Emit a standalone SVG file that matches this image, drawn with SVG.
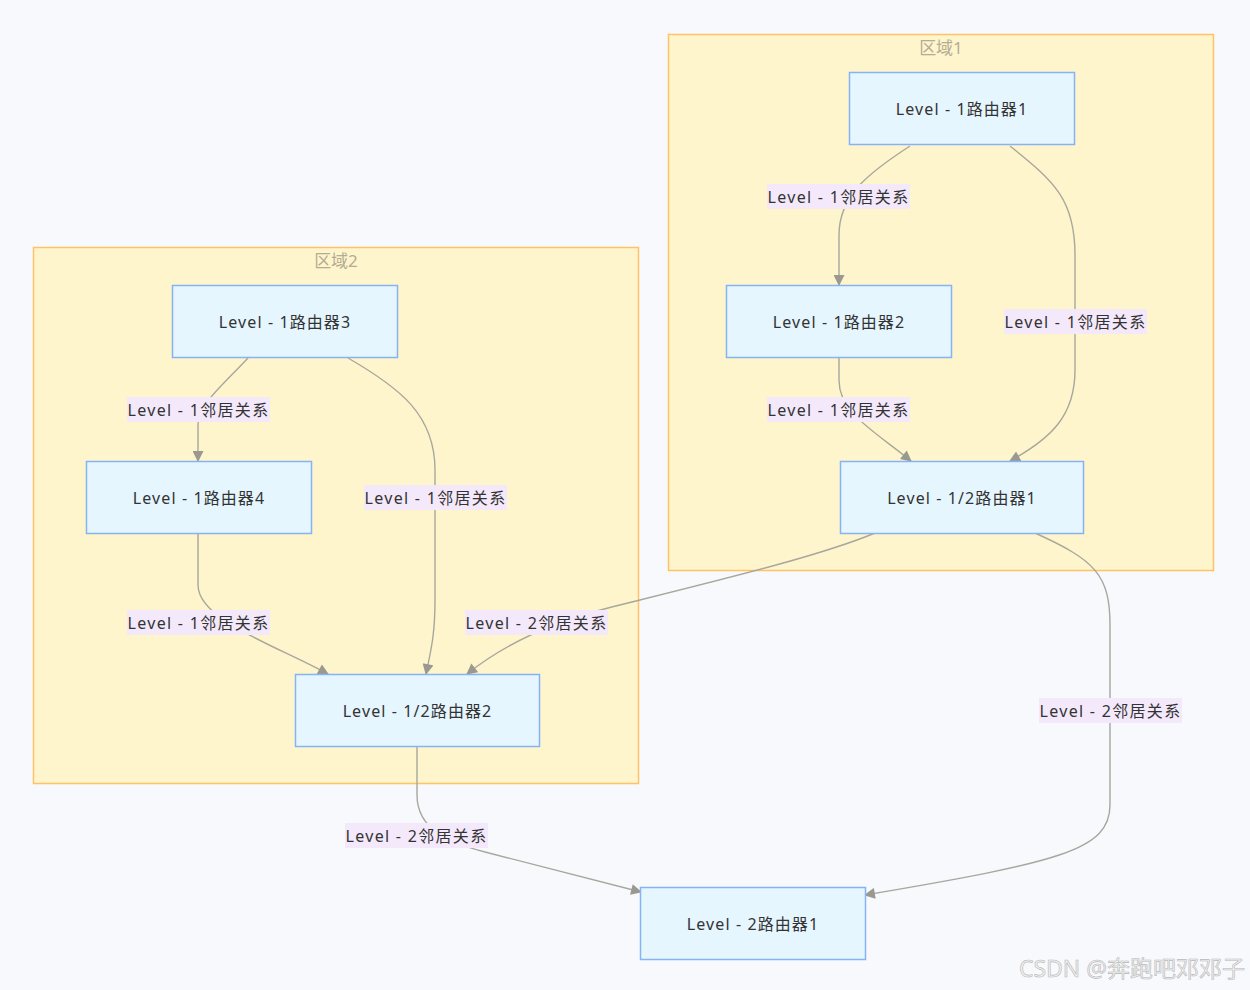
<svg xmlns="http://www.w3.org/2000/svg" width="1250" height="990" viewBox="0 0 1250 990">
<defs>
<style>
.cluster{fill:#fff5cc;stroke:#ffc266;stroke-width:1.5}
.ctitle{font-family:"Noto Sans","Noto Sans CJK SC",sans-serif;font-size:17px;fill:#b3ad93;text-anchor:middle}
.node rect{fill:#e6f6ff;stroke:#85b3f5;stroke-width:1.5}
.node text{font-family:"Noto Sans","Noto Sans CJK SC",sans-serif;font-size:16px;letter-spacing:1.1px;fill:#333;text-anchor:middle;dominant-baseline:central}
.edge{fill:none;stroke:#a8a79e;stroke-width:1.4;marker-end:url(#arr)}
.lbl rect{fill:#f3e9fb}
.lbl text{font-family:"Noto Sans","Noto Sans CJK SC",sans-serif;font-size:16px;letter-spacing:1.3px;fill:#333;text-anchor:middle;dominant-baseline:central}
</style>
<marker id="arr" viewBox="0 0 10 10" refX="9" refY="5" markerWidth="12" markerHeight="11" markerUnits="userSpaceOnUse" orient="auto">
<path d="M0,0 L10,5 L0,10 z" fill="#9a9990"/>
</marker>
</defs>
<rect width="1250" height="990" fill="#f8f9fc"/>
<g id="cluster1">
<rect class="cluster" x="668.5" y="34.5" width="545" height="536"/>
<text class="ctitle" x="941" y="54">区域1</text>
</g>
<g id="cluster2">
<rect class="cluster" x="33.5" y="247.5" width="605" height="536"/>
<text class="ctitle" x="336" y="267">区域2</text>
</g>
<g id="connectors">
<path class="edge" d="M910,146 C870,172 839,195 839,235 L839,285"/>
<path class="edge" d="M1010,146 C1055,182 1075,200 1075,255 L1075,370 C1075,415 1052,438 1010,461"/>
<path class="edge" d="M839,358 L839,380 C839,412 870,428 911,461"/>
<path class="edge" d="M248,358 C220,388 198,405 198,425 L198,461"/>
<path class="edge" d="M348,358 C400,388 435,415 435,470 L435,600 C435,635 431,650 426,674"/>
<path class="edge" d="M198,533 L198,585 C198,620 275,645 328,674"/>
<path class="edge" d="M875,533 C820,556 720,580 608,608 C560,620 510,640 467,674"/>
<path class="edge" d="M1035,533 C1095,560 1110,575 1110,625 L1110,805 C1110,850 1060,862 865,895"/>
<path class="edge" d="M417,746 L417,795 C417,830 450,843 485,852 L641,892"/>
</g>
<g id="labels">
<g class="lbl"><rect x="767" y="184" width="143" height="25"/><text x="838.5" y="196.5">Level - 1邻居关系</text></g>
<g class="lbl"><rect x="1004" y="309" width="143" height="25"/><text x="1075.5" y="321.5">Level - 1邻居关系</text></g>
<g class="lbl"><rect x="767" y="397" width="143" height="25"/><text x="838.5" y="409.5">Level - 1邻居关系</text></g>
<g class="lbl"><rect x="127" y="397" width="143" height="25"/><text x="198.5" y="409.5">Level - 1邻居关系</text></g>
<g class="lbl"><rect x="364" y="485" width="143" height="25"/><text x="435.5" y="497.5">Level - 1邻居关系</text></g>
<g class="lbl"><rect x="127" y="610" width="143" height="25"/><text x="198.5" y="622.5">Level - 1邻居关系</text></g>
<g class="lbl"><rect x="465" y="610" width="143" height="25"/><text x="536.5" y="622.5">Level - 2邻居关系</text></g>
<g class="lbl"><rect x="1039" y="698" width="143" height="25"/><text x="1110.5" y="710.5">Level - 2邻居关系</text></g>
<g class="lbl"><rect x="345" y="823" width="143" height="25"/><text x="416.5" y="835.5">Level - 2邻居关系</text></g>
</g>
<g id="r1" class="node"><rect x="849.5" y="72.5" width="225" height="72"/><text x="962" y="108.5">Level - 1路由器1</text></g>
<g id="r2" class="node"><rect x="726.5" y="285.5" width="225" height="72"/><text x="839" y="321.5">Level - 1路由器2</text></g>
<g id="r12_1" class="node"><rect x="840.5" y="461.5" width="243" height="72"/><text x="962" y="497.5">Level - 1/2路由器1</text></g>
<g id="r3" class="node"><rect x="172.5" y="285.5" width="225" height="72"/><text x="285" y="321.5">Level - 1路由器3</text></g>
<g id="r4" class="node"><rect x="86.5" y="461.5" width="225" height="72"/><text x="199" y="497.5">Level - 1路由器4</text></g>
<g id="r12_2" class="node"><rect x="295.5" y="674.5" width="244" height="72"/><text x="417.5" y="710.5">Level - 1/2路由器2</text></g>
<g id="l2r1" class="node"><rect x="640.5" y="887.5" width="225" height="72"/><text x="753" y="923.5">Level - 2路由器1</text></g>
<text x="1245" y="977" text-anchor="end" font-family="Noto Sans,Noto Sans CJK SC,sans-serif" font-size="23" fill="#f0f0f0" stroke="#b8b8b8" stroke-width="0.6">CSDN @奔跑吧邓邓子</text>
</svg>
